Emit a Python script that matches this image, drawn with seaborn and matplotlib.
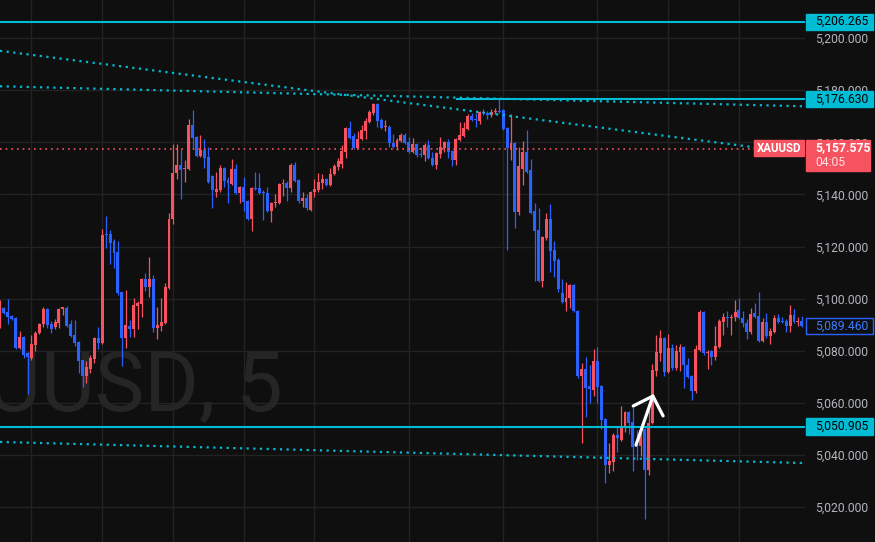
#XAUUSD 5 minute candles, dark chart with price tags
import numpy as np
import pandas as pd
import matplotlib
matplotlib.use('Agg')
import matplotlib.pyplot as plt
import seaborn as sns
from matplotlib.patches import Rectangle

# OHLC of every bar, left to right
opens = [5089.5, 5096.4, 5094.9, 5093.3, 5092.6, 5081.0, 5085.3, 5079.1, 5077.2, 5082.2,
         5086.8, 5090.3, 5096.0, 5090.3, 5089.1, 5090.7, 5096.2, 5096.4, 5090.3, 5086.0,
         5083.4, 5076.5, 5070.3, 5073.0, 5076.8, 5084.9, 5083.0, 5124.8, 5124.8, 5122.1,
         5117.9, 5102.5, 5084.9, 5089.5, 5088.3, 5097.1, 5097.9, 5107.5, 5104.5, 5107.5,
         5088.7, 5089.5, 5090.7, 5104.1, 5130.5, 5148.2, 5151.3, 5149.8, 5149.8, 5166.6,
         5162.0, 5154.7, 5157.0, 5154.3, 5147.0, 5140.9, 5141.7, 5150.1, 5145.5, 5144.0,
         5149.7, 5140.5, 5142.8, 5137.5, 5130.5, 5142.4, 5142.4, 5140.9, 5140.5, 5133.6,
         5136.7, 5136.7, 5144.0, 5144.4, 5142.4, 5151.3, 5145.5, 5137.5, 5138.6, 5134.0,
         5140.9, 5141.7, 5144.4, 5145.9, 5143.6, 5147.8, 5150.5, 5151.7, 5156.3, 5165.5,
         5162.4, 5157.8, 5161.2, 5164.3, 5167.8, 5171.2, 5174.7, 5168.5, 5165.9, 5165.9,
         5159.7, 5158.2, 5160.5, 5162.8, 5160.1, 5156.3, 5159.3, 5155.5, 5155.1, 5158.9,
         5154.0, 5151.3, 5155.5, 5157.8, 5160.1, 5156.6, 5153.2, 5160.9, 5162.4, 5165.1,
         5170.1, 5168.9, 5168.2, 5171.6, 5171.2, 5170.4, 5171.6, 5172.0, 5172.4, 5165.5,
         5157.4, 5159.7, 5133.2, 5149.7, 5156.3, 5149.4, 5133.6, 5126.3, 5106.8, 5123.2,
         5130.5, 5118.7, 5114.8, 5102.2, 5098.7, 5100.2, 5105.2, 5095.2, 5070.3, 5073.0,
         5066.5, 5064.9, 5076.1, 5066.5, 5053.8, 5036.2, 5037.3, 5047.7, 5045.8, 5050.7,
         5056.5, 5052.7, 5043.8, 5043.5, 5050.0, 5034.2, 5052.3, 5072.2, 5079.1, 5084.9,
         5071.8, 5081.0, 5073.4, 5079.5, 5081.4, 5074.5, 5070.3, 5064.5, 5080.3, 5094.9,
         5079.1, 5079.9, 5077.6, 5081.4, 5091.0, 5093.0, 5092.7, 5092.9, 5095.6, 5092.6,
         5090.7, 5087.2, 5094.5, 5093.3, 5083.7, 5091.0, 5085.7, 5087.2, 5092.6, 5091.4,
         5091.4, 5089.5, 5093.7, 5091.0, 5091.4]
highs = [5099.5, 5096.8, 5099.9, 5093.6, 5092.9, 5087.6, 5085.7, 5079.5, 5086.0, 5087.6,
         5090.7, 5096.8, 5096.4, 5091.4, 5092.2, 5096.4, 5096.8, 5097.2, 5091.8, 5091.8,
         5083.8, 5076.5, 5076.1, 5078.4, 5085.3, 5089.1, 5126.7, 5131.7, 5126.3, 5122.9,
         5122.1, 5102.5, 5103.3, 5091.8, 5100.2, 5099.1, 5107.9, 5109.8, 5116.0, 5109.0,
         5096.8, 5100.2, 5106.0, 5132.9, 5159.3, 5159.3, 5157.4, 5153.2, 5168.9, 5172.4,
         5162.4, 5162.8, 5161.2, 5158.2, 5147.4, 5148.6, 5151.3, 5150.5, 5146.7, 5153.6,
         5151.7, 5143.2, 5146.7, 5137.9, 5142.8, 5148.6, 5148.2, 5141.7, 5142.8, 5137.1,
         5140.1, 5144.4, 5145.9, 5145.1, 5152.0, 5152.4, 5145.9, 5140.9, 5140.1, 5141.3,
         5145.9, 5148.2, 5147.8, 5146.3, 5150.1, 5151.7, 5154.0, 5158.9, 5165.9, 5168.2,
         5163.5, 5164.3, 5166.6, 5169.3, 5172.4, 5175.1, 5175.1, 5169.3, 5168.5, 5166.6,
         5163.2, 5161.6, 5163.5, 5163.5, 5162.0, 5161.6, 5159.7, 5158.2, 5159.7, 5160.9,
         5156.3, 5156.3, 5162.0, 5160.5, 5161.2, 5157.0, 5161.6, 5167.8, 5167.8, 5170.8,
         5171.2, 5171.2, 5172.0, 5172.8, 5172.0, 5172.8, 5173.1, 5176.6, 5172.8, 5165.9,
         5170.8, 5160.1, 5158.2, 5160.5, 5164.7, 5153.6, 5136.7, 5134.8, 5124.0, 5132.9,
         5136.3, 5122.1, 5115.6, 5107.5, 5106.4, 5105.6, 5105.6, 5095.6, 5075.3, 5077.6,
         5074.5, 5080.7, 5081.4, 5066.9, 5054.2, 5044.6, 5048.4, 5050.7, 5058.8, 5056.9,
         5056.9, 5058.4, 5049.6, 5050.0, 5050.4, 5058.4, 5074.9, 5086.0, 5088.0, 5085.3,
         5086.4, 5082.6, 5082.2, 5082.6, 5081.8, 5077.2, 5070.7, 5082.2, 5095.6, 5095.2,
         5080.3, 5080.3, 5089.5, 5092.2, 5094.5, 5095.2, 5094.1, 5099.5, 5100.2, 5095.2,
         5092.2, 5096.4, 5098.3, 5102.5, 5092.6, 5094.5, 5088.7, 5093.7, 5094.1, 5092.9,
         5092.2, 5097.5, 5096.0, 5092.9, 5093.3]
lows = [5088.7, 5094.1, 5090.3, 5091.8, 5080.7, 5080.6, 5077.2, 5063.4, 5076.5, 5079.9,
        5086.4, 5089.1, 5088.7, 5086.8, 5088.3, 5088.7, 5093.7, 5089.1, 5085.3, 5081.8,
        5071.5, 5066.1, 5067.6, 5071.5, 5075.3, 5080.7, 5082.6, 5119.4, 5113.3, 5111.8,
        5101.4, 5074.1, 5081.0, 5085.3, 5085.3, 5088.3, 5093.0, 5102.9, 5100.6, 5087.2,
        5084.5, 5087.6, 5090.3, 5103.7, 5128.6, 5145.9, 5138.2, 5144.7, 5149.4, 5157.8,
        5154.3, 5154.3, 5150.1, 5144.3, 5134.8, 5139.0, 5140.9, 5142.8, 5136.7, 5143.6,
        5140.1, 5136.7, 5133.6, 5130.2, 5126.0, 5141.7, 5140.1, 5130.2, 5133.2, 5129.4,
        5135.2, 5136.3, 5139.4, 5137.5, 5140.9, 5144.7, 5136.7, 5135.2, 5134.0, 5133.6,
        5139.0, 5140.9, 5142.1, 5143.2, 5143.2, 5147.4, 5149.4, 5150.1, 5154.0, 5161.2,
        5157.4, 5157.4, 5160.9, 5161.2, 5167.4, 5170.4, 5165.9, 5165.1, 5164.3, 5158.2,
        5157.8, 5157.0, 5160.1, 5159.3, 5155.9, 5155.9, 5154.3, 5154.3, 5152.8, 5153.6,
        5150.9, 5149.7, 5154.0, 5156.3, 5154.0, 5150.9, 5151.3, 5160.5, 5162.0, 5164.7,
        5168.2, 5165.9, 5167.0, 5170.4, 5168.9, 5169.7, 5170.8, 5171.2, 5164.7, 5118.7,
        5153.2, 5127.1, 5132.1, 5143.6, 5148.2, 5132.5, 5106.8, 5106.4, 5104.5, 5122.5,
        5110.2, 5108.3, 5102.5, 5098.3, 5095.2, 5096.4, 5094.9, 5069.5, 5044.6, 5054.6,
        5059.9, 5062.6, 5059.9, 5050.0, 5029.3, 5033.1, 5033.9, 5041.2, 5045.4, 5048.8,
        5048.1, 5033.9, 5038.1, 5039.6, 5015.4, 5032.3, 5052.0, 5070.3, 5076.1, 5070.3,
        5071.5, 5072.6, 5072.6, 5072.2, 5065.7, 5069.5, 5061.1, 5063.8, 5079.9, 5078.4,
        5073.0, 5074.5, 5076.5, 5081.0, 5086.0, 5089.1, 5086.0, 5091.4, 5092.2, 5089.1,
        5084.5, 5086.4, 5092.6, 5083.4, 5083.4, 5084.9, 5082.6, 5086.8, 5090.7, 5090.7,
        5087.2, 5087.2, 5090.7, 5089.5, 5089.1]
closes = [5098.7, 5094.5, 5093.0, 5092.2, 5081.0, 5085.3, 5078.4, 5077.6, 5082.6, 5086.8,
          5090.3, 5096.0, 5089.9, 5088.3, 5091.0, 5096.0, 5096.6, 5089.5, 5085.7, 5083.0,
          5076.1, 5070.3, 5073.8, 5077.2, 5084.9, 5083.0, 5124.4, 5124.4, 5121.3, 5117.5,
          5102.2, 5084.9, 5089.9, 5088.3, 5097.5, 5098.3, 5107.5, 5104.5, 5107.5, 5088.7,
          5089.9, 5091.0, 5104.5, 5130.5, 5148.2, 5151.3, 5149.4, 5150.1, 5166.6, 5161.6,
          5154.7, 5157.0, 5153.9, 5144.7, 5141.7, 5142.1, 5150.1, 5145.1, 5144.4, 5149.7,
          5140.5, 5142.8, 5137.1, 5130.5, 5142.4, 5142.1, 5140.5, 5140.5, 5133.6, 5136.7,
          5137.1, 5144.0, 5144.4, 5142.4, 5151.3, 5145.1, 5137.5, 5138.6, 5134.8, 5140.9,
          5142.1, 5144.7, 5145.9, 5143.6, 5147.8, 5150.9, 5152.8, 5156.6, 5165.5, 5161.6,
          5157.8, 5161.2, 5164.7, 5168.2, 5171.6, 5174.7, 5168.2, 5165.5, 5166.3, 5159.7,
          5158.2, 5160.9, 5162.8, 5159.7, 5156.3, 5159.3, 5155.1, 5155.1, 5158.9, 5154.0,
          5151.3, 5155.9, 5158.2, 5160.1, 5156.3, 5153.2, 5161.2, 5162.8, 5165.5, 5170.1,
          5168.5, 5168.5, 5171.6, 5171.2, 5170.4, 5171.6, 5172.0, 5171.6, 5165.1, 5157.8,
          5159.7, 5133.2, 5150.9, 5156.3, 5148.6, 5132.9, 5126.0, 5106.8, 5123.6, 5130.5,
          5118.3, 5114.4, 5103.7, 5098.7, 5100.2, 5105.2, 5095.2, 5070.3, 5073.0, 5065.7,
          5065.3, 5076.1, 5066.1, 5053.4, 5036.2, 5037.7, 5047.7, 5046.5, 5050.7, 5056.5,
          5052.3, 5043.1, 5043.1, 5049.6, 5034.2, 5052.3, 5072.6, 5079.5, 5084.9, 5071.8,
          5081.0, 5073.4, 5079.9, 5081.4, 5074.5, 5069.9, 5064.5, 5080.7, 5094.9, 5079.1,
          5079.5, 5077.6, 5081.8, 5091.4, 5092.9, 5092.7, 5093.0, 5094.9, 5092.6, 5090.7,
          5087.2, 5094.1, 5092.9, 5083.7, 5091.0, 5085.7, 5087.6, 5092.6, 5091.0, 5091.0,
          5089.5, 5093.7, 5091.0, 5091.4, 5089.46]

price_ticks = [5020, 5040, 5060, 5080, 5100, 5120, 5140, 5160, 5180, 5200]
time_grid = [8, 26, 44, 62, 80, 104, 128, 152, 170, 188]   # bar index of vertical grid lines

# horizontal levels (price, first bar)
level_prices = [5206.265, 5176.630, 5050.905]
level_start = [0, 116, 0]
xau_price = 5157.575
xau_timer = '04:05'
last_price = 5089.460

# dotted trend lines, end points as (bar, price)
trend_x = [[0, 204.8], [0, 204.8], [0, 204.8]]
trend_y = [[5195.1, 5155.6], [5181.5, 5173.8], [5045.0, 5036.9]]

# hand drawn arrow
arrow_shaft_x = [161.8, 166.1]
arrow_shaft_y = [5043.8, 5062.6]
arrow_head_x = [161.1, 166.1, 168.7]
arrow_head_y = [5058.8, 5062.6, 5055.0]

bg = '#0f0f0f'
upc = '#f7525f'
dnc = '#2962ff'
cyan = '#00bcd4'

sns.set_style('dark', {'axes.facecolor': bg, 'figure.facecolor': bg,
                       'grid.color': '#232323', 'axes.edgecolor': bg})
plt.rcParams['font.family'] = ['Roboto', 'DejaVu Sans']

df = pd.DataFrame({'open': opens, 'high': highs, 'low': lows, 'close': closes})
df['bar'] = np.arange(len(df))
df['up'] = df['close'] >= df['open']
df['color'] = np.where(df['up'], upc, dnc)
df['bottom'] = df[['open', 'close']].min(axis=1)
df['height'] = (df['close'] - df['open']).abs().clip(lower=0.35)

fig = plt.figure(figsize=(8.75, 5.42), dpi=100)
ax = fig.add_axes([0, 0, 805/875, 1])
ax.set_xlim(0, 204.8)
ax.set_ylim(5006.6, 5214.6)

#grid
ax.set_xticks(time_grid)
ax.set_xticklabels([])
ax.set_yticks(price_ticks)
ax.set_yticklabels(['{:,.3f}'.format(p) for p in price_ticks])
ax.yaxis.tick_right()
ax.tick_params(axis='y', length=0, pad=7.3, labelcolor='#b2b5be', labelsize=8.7)
ax.tick_params(axis='x', length=0)
ax.grid(True, color='#232323', lw=1)
ax.set_axisbelow(True)
for s in ax.spines.values():
    s.set_visible(False)

#watermark
ax.text(0.3516, 0.2435, 'XAUUSD, 5', transform=ax.transAxes, ha='right', va='baseline',
        fontsize=60, color='#252525', family='Roboto', zorder=0.6)

#candles
ax.vlines(df['bar'], df['low'], df['high'], colors=df['color'], lw=0.9, zorder=3)
ax.bar(df['bar'], df['height'], bottom=df['bottom'], width=0.75, color=df['color'],
       linewidth=0, zorder=3)

#levels
for p, start in zip(level_prices, level_start):
    ax.hlines(p, start, 204.8, color=cyan, lw=1.5, zorder=4)
ax.axhline(xau_price, color=upc, lw=1.2, ls=(0, (1, 2.4)), zorder=4)

#trend lines
for tx, ty in zip(trend_x, trend_y):
    sns.lineplot(x=tx, y=ty, ax=ax, color=cyan, lw=1.6, linestyle=(0, (1, 2)), zorder=4)

#arrow
ax.plot(arrow_shaft_x, arrow_shaft_y, color='white', lw=2.3, solid_capstyle='round', zorder=6)
ax.plot(arrow_head_x, arrow_head_y, color='white', lw=2.3, solid_capstyle='round',
        solid_joinstyle='round', zorder=6)

ax.set_xlabel('')
ax.set_ylabel('')

#price tags on the scale
trans = ax.get_yaxis_transform()
px = 0.3837   # price per pixel
tag_x0 = 806/805
tag_w = 67/805
txt_x = 815/805


def price_tag(p, text, fc, tc, ec=None):
    ax.add_patch(Rectangle((tag_x0, p - 8.2*px), tag_w, 16.4*px, transform=trans,
                           fc=fc, ec=ec if ec else fc, lw=1, clip_on=False, zorder=10))
    ax.text(txt_x, p, text, transform=trans, ha='left', va='center', fontsize=8.7,
            color=tc, clip_on=False, zorder=11)


for p in level_prices:
    price_tag(p, '{:,.3f}'.format(p), cyan, '#000000')
price_tag(last_price, '{:,.3f}'.format(last_price), bg, '#3d7bff', ec=dnc)

#XAUUSD tag with countdown
ax.add_patch(Rectangle((tag_x0, 5149.0), 64/805, 11.9, transform=trans, fc=upc, ec=upc,
                       clip_on=False, zorder=10))
ax.text(txt_x, xau_price + 0.2, '{:,.3f}'.format(xau_price), transform=trans, ha='left',
        va='center', fontsize=8.7, fontweight='bold', color='white', clip_on=False, zorder=11)
ax.text(txt_x, 5152.4, xau_timer, transform=trans, ha='left', va='center', fontsize=8.7,
        color='#ffe0e3', clip_on=False, zorder=11)
ax.add_patch(Rectangle((754/805, 5154.8), 50/805, 6.1, transform=trans, fc=upc, ec=upc,
                       clip_on=False, zorder=10))
ax.text(779/805, 5157.8, 'XAUUSD', transform=trans, ha='center', va='center', fontsize=8.3,
        fontweight='bold', color='white', clip_on=False, zorder=11)

fig.savefig('out.png', dpi=100, facecolor=bg)
